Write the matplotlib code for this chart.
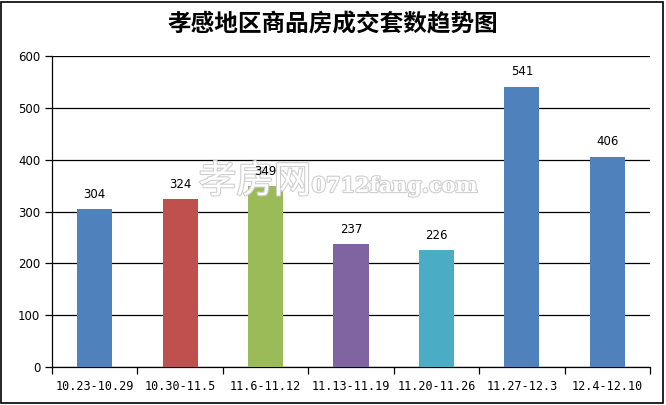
import matplotlib
matplotlib.use('Agg')
import matplotlib.pyplot as plt
import matplotlib.patheffects as pe
from matplotlib.patches import Rectangle

plt.rcParams['font.family'] = ['Noto Sans CJK SC', 'DejaVu Sans']

# data
weeks = ['10.23-10.29', '10.30-11.5', '11.6-11.12', '11.13-11.19',
         '11.20-11.26', '11.27-12.3', '12.4-12.10']
sales = [304, 324, 349, 237, 226, 541, 406]
colors = ['#4F81BD', '#C0504D', '#9BBB59', '#8064A2', '#4BACC6', '#4F81BD', '#4F81BD']

fig = plt.figure(figsize=(6.66, 4.05), dpi=100)
ax = fig.add_axes([52 / 666, 1 - 367 / 405, 598 / 666, 311 / 405])

x = range(len(weeks))
ax.bar(x, sales, width=0.41, color=colors, zorder=3)
for xi, v in zip(x, sales):
    ax.text(xi, v + 16, str(v), ha='center', va='bottom', fontsize=8.5,
            family='DejaVu Sans', zorder=5)

ax.set_xlim(-0.5, len(weeks) - 0.5)
ax.set_ylim(0, 600)
ax.set_yticks(range(0, 601, 100))
ax.yaxis.grid(True, color='black', linewidth=0.9, zorder=0)
ax.set_xticks([i - 0.5 for i in range(len(weeks) + 1)], minor=False)
ax.set_xticklabels([])
ax.set_xticks(list(x), minor=True)
ax.set_xticklabels(weeks, minor=True, fontsize=8.5, family='DejaVu Sans Mono')
ax.tick_params(axis='x', which='minor', length=0, pad=9)
ax.tick_params(axis='x', which='major', length=5, width=0.9, direction='out')
ax.tick_params(axis='y', length=5, width=0.9, labelsize=8.5, direction='out')
for lab in ax.get_yticklabels():
    lab.set_family('DejaVu Sans')
for s in ['top', 'right']:
    ax.spines[s].set_visible(False)
ax.spines['left'].set_linewidth(0.9)
ax.spines['bottom'].set_linewidth(0.9)

# watermark (under the value labels)
wm = [pe.withStroke(linewidth=1.6, foreground='#cfcfcf')]
ax.text(255 / 666, 1 - 182 / 405, '孝房网', fontsize=27, color='white',
        ha='center', va='center', path_effects=wm, zorder=4,
        transform=fig.transFigure)
ax.text(395 / 666, 1 - 186 / 405, '0712fang.com', fontsize=15, color='white',
        ha='center', va='center', family='DejaVu Serif', fontweight='bold',
        path_effects=wm, zorder=4, transform=fig.transFigure)

fig.suptitle('孝感地区商品房成交套数趋势图', y=1 - 24 / 405, va='center',
             fontsize=17, fontweight='bold')

fig.patches.append(Rectangle((0.002, 0.004), 0.994, 0.992, transform=fig.transFigure,
                             fill=False, edgecolor='black', linewidth=1.2))

fig.savefig('out.png', dpi=100)
